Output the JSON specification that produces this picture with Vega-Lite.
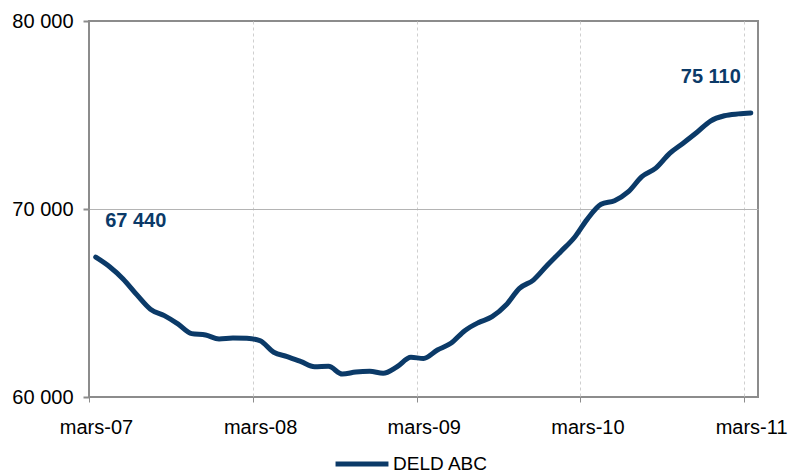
{
  "$schema": "https://vega.github.io/schema/vega-lite/v6.json",
  "width": 669,
  "height": 376,
  "autosize": {"type": "none"},
  "padding": {"left": 89, "top": 21, "right": 30, "bottom": 76},
  "background": "white",
  "config": {
    "locale": {"number": {"decimal": ",", "thousands": " ", "grouping": [3], "currency": ["", " €"]}},
    "font": "Liberation Sans",
    "view": {"stroke": "#8c8c8c", "strokeWidth": 2}
  },
  "data": {
    "values": [
      {"date": "2007-03-16", "value": 67440},
      {"date": "2007-04-16", "value": 66930},
      {"date": "2007-05-16", "value": 66280},
      {"date": "2007-06-16", "value": 65430},
      {"date": "2007-07-16", "value": 64670},
      {"date": "2007-08-16", "value": 64330},
      {"date": "2007-09-16", "value": 63880},
      {"date": "2007-10-16", "value": 63370},
      {"date": "2007-11-16", "value": 63300},
      {"date": "2007-12-16", "value": 63090},
      {"date": "2008-01-16", "value": 63140},
      {"date": "2008-02-16", "value": 63120},
      {"date": "2008-03-16", "value": 63000},
      {"date": "2008-04-16", "value": 62380},
      {"date": "2008-05-16", "value": 62150},
      {"date": "2008-06-16", "value": 61880},
      {"date": "2008-07-16", "value": 61610},
      {"date": "2008-08-16", "value": 61630},
      {"date": "2008-09-16", "value": 61220},
      {"date": "2008-10-16", "value": 61330},
      {"date": "2008-11-16", "value": 61370},
      {"date": "2008-12-16", "value": 61260},
      {"date": "2009-01-16", "value": 61610},
      {"date": "2009-02-16", "value": 62110},
      {"date": "2009-03-16", "value": 62050},
      {"date": "2009-04-16", "value": 62500},
      {"date": "2009-05-16", "value": 62860},
      {"date": "2009-06-16", "value": 63530},
      {"date": "2009-07-16", "value": 63950},
      {"date": "2009-08-16", "value": 64270},
      {"date": "2009-09-16", "value": 64890},
      {"date": "2009-10-16", "value": 65780},
      {"date": "2009-11-16", "value": 66220},
      {"date": "2009-12-16", "value": 66980},
      {"date": "2010-01-16", "value": 67730},
      {"date": "2010-02-16", "value": 68500},
      {"date": "2010-03-16", "value": 69450},
      {"date": "2010-04-16", "value": 70250},
      {"date": "2010-05-16", "value": 70440},
      {"date": "2010-06-16", "value": 70920},
      {"date": "2010-07-16", "value": 71720},
      {"date": "2010-08-16", "value": 72170},
      {"date": "2010-09-16", "value": 72960},
      {"date": "2010-10-16", "value": 73500},
      {"date": "2010-11-16", "value": 74080},
      {"date": "2010-12-16", "value": 74680},
      {"date": "2011-01-16", "value": 74960},
      {"date": "2011-02-16", "value": 75060},
      {"date": "2011-03-16", "value": 75110}
    ]
  },
  "encoding": {
    "x": {
      "field": "date",
      "type": "temporal",
      "scale": {
        "type": "utc",
        "domain": [
          {"year": 2007, "month": 3, "date": 1, "utc": true},
          {"year": 2011, "month": 4, "date": 1, "utc": true}
        ]
      },
      "axis": {
        "title": null,
        "values": [
          {"year": 2007, "month": 3, "date": 1, "utc": true},
          {"year": 2008, "month": 3, "date": 1, "utc": true},
          {"year": 2009, "month": 3, "date": 1, "utc": true},
          {"year": 2010, "month": 3, "date": 1, "utc": true},
          {"year": 2011, "month": 3, "date": 1, "utc": true}
        ],
        "labelExpr": "'mars-' + utcFormat(datum.value, '%y')",
        "labelOffset": 7,
        "labelFontSize": 20,
        "labelColor": "#000000",
        "labelPadding": 15,
        "labelFlush": false,
        "domain": false,
        "ticks": true,
        "tickSize": 5,
        "tickColor": "#8c8c8c",
        "tickWidth": 1,
        "grid": true,
        "gridDash": [3, 3],
        "gridColor": {"condition": {"test": "year(datum.value) == 2007", "value": "transparent"}, "value": "#cfcfcf"},
        "gridWidth": 1
      }
    },
    "y": {
      "field": "value",
      "type": "quantitative",
      "scale": {"domain": [60000, 80000], "nice": false, "zero": false},
      "axis": {
        "title": null,
        "values": [60000, 70000, 80000],
        "labelExpr": "replace(format(datum.value, ',.0f'), ',', ' ')",
        "labelFontSize": 20,
        "labelColor": "#000000",
        "labelPadding": 10,
        "domain": false,
        "tickSize": 6,
        "tickColor": "#8c8c8c",
        "tickWidth": 2,
        "grid": true,
        "gridColor": {"condition": {"test": "datum.value == 70000", "value": "#b4b4b4"}, "value": "transparent"},
        "gridWidth": 1
      }
    }
  },
  "layer": [
    {
      "mark": {"type": "line", "strokeWidth": 5, "interpolate": "monotone", "strokeCap": "round"},
      "encoding": {
        "color": {
          "datum": "DELD ABC",
          "type": "nominal",
          "scale": {"range": ["#0b3a68"]},
          "legend": {
            "title": null,
            "orient": "none",
            "legendX": 244,
            "legendY": 414,
            "symbolType": "stroke",
            "symbolSize": 2800,
            "symbolStrokeWidth": 5,
            "labelFontSize": 19,
            "labelColor": "#000000",
            "labelOffset": 2,
            "padding": 0
          }
        }
      }
    },
    {
      "transform": [{"filter": "datum.value == 67440"}],
      "mark": {"type": "text", "fontSize": 20, "fontWeight": "bold", "color": "#0b3a68", "align": "center", "baseline": "alphabetic", "dx": 40, "dy": -30},
      "encoding": {"text": {"field": "value", "type": "quantitative", "format": ","}}
    },
    {
      "transform": [{"filter": "datum.value == 75110"}],
      "mark": {"type": "text", "fontSize": 20, "fontWeight": "bold", "color": "#0b3a68", "align": "center", "baseline": "alphabetic", "dx": -40, "dy": -30},
      "encoding": {"text": {"field": "value", "type": "quantitative", "format": ","}}
    }
  ]
}
